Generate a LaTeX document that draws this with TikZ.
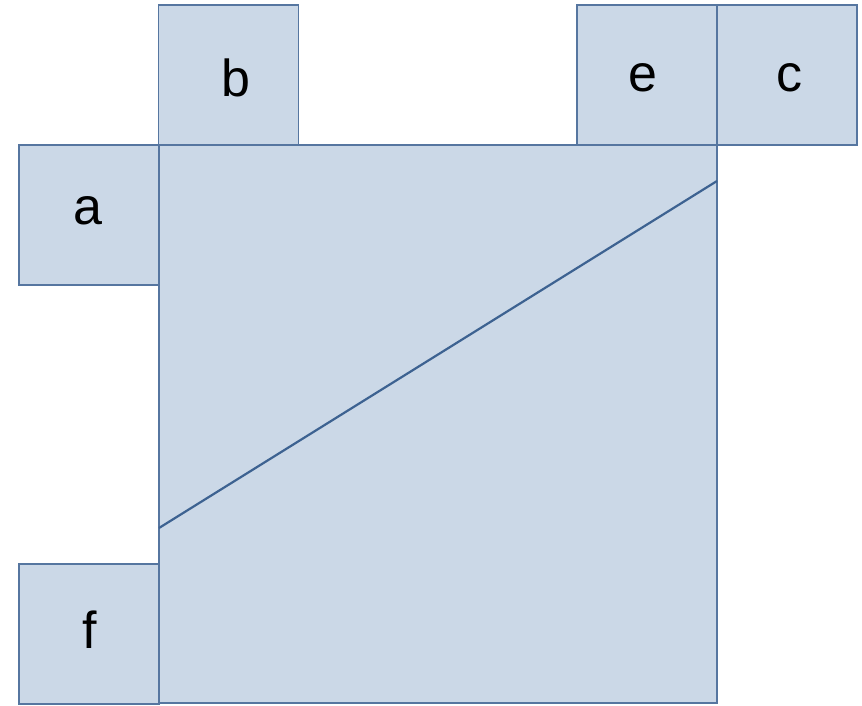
\documentclass[tikz,border=0pt]{standalone}
\usepackage{fontspec}
\setmainfont{Liberation Sans}
\begin{document}
\begin{tikzpicture}[x=1pt,y=-1pt,
  sq/.style={draw=edgecol,line width=1.8pt,fill=fillcol,minimum width=140pt,minimum height=140pt,inner sep=0pt,outer sep=0pt},
  lbl/.style={font=\fontsize{52}{60}\selectfont,inner sep=0pt},
  diag/.style={draw=diagcol,line width=2.2pt}]
\definecolor{fillcol}{HTML}{CBD8E7}
\definecolor{edgecol}{HTML}{5676A0}
\definecolor{diagcol}{HTML}{3D6291}
\useasboundingbox (0,0) rectangle (862,705);
\node[sq] (a) at (89,215) {};
\node[sq] (b) at (228.5,75) {};
\node[sq] (e) at (647,75) {};
\node[sq] (c) at (787,75) {};
\node[sq] (f) at (89,634) {};
\node[sq,minimum width=558pt,minimum height=558pt] (big) at (438,424) {};
\node[lbl] (ta) at ([xshift=-1pt,yshift=4pt]a.center) {a};
\node[lbl] (tb) at ([xshift=7pt,yshift=-3pt]b.center) {b};
\node[lbl] (te) at ([xshift=-4pt,yshift=-3pt]e.center) {e};
\node[lbl] (tc) at ([xshift=2pt,yshift=-3pt]c.center) {c};
\node[lbl] (tf) at ([xshift=1pt,yshift=4pt]f.center) {f};
\coordinate (p1) at (159,528);
\coordinate (p2) at (717,181);
\draw[diag] (p1) -- (p2);
\end{tikzpicture}
\end{document}
